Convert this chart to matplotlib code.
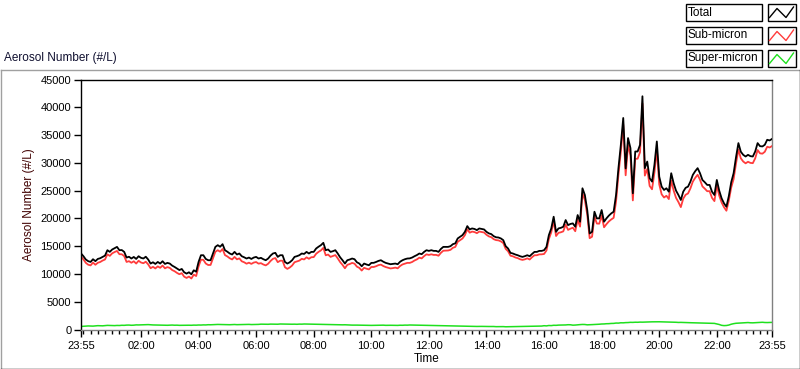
import numpy as np
import matplotlib
matplotlib.use("Agg")
import matplotlib.pyplot as plt
from matplotlib.lines import Line2D
from matplotlib.patches import Rectangle

plt.rcParams['font.family'] = ['Liberation Sans', 'DejaVu Sans']

# minutes after 23:55, every 5 min
minutes = np.arange(0, 1441, 5)

total = [
    13700, 13200, 12600, 12300, 12160, 12650, 12300, 12700, 12830, 13070, 13300, 14275,
    13970, 14400, 14640, 14870, 14275, 14300, 13970, 12950, 13100, 12775, 13060, 12700,
    13190, 12900, 12780, 13100, 12600, 11870, 12100, 11800, 12160, 11870, 12290, 11800,
    11990, 11870, 11500, 11260, 10970, 10700, 10900, 10300, 10060, 10300, 9940, 10660,
    10400, 12160, 13370, 13370, 12700, 12470, 12470, 13680, 14870, 15180, 14900, 15360,
    14275, 14000, 13680, 13500, 13970, 13500, 13680, 13190, 13000, 12775, 12950, 12700,
    12950, 13070, 12775, 12900, 12650, 12470, 12775, 13300, 13680, 13800, 13070, 13370,
    13370, 12160, 11870, 12100, 12470, 13070, 13200, 13370, 13680, 13600, 13970, 13680,
    13970, 13970, 14580, 14900, 15180, 15600, 14275, 14400, 13970, 14100, 14275, 13680,
    13000, 12470, 11870, 12470, 12600, 12775, 12650, 12100, 11870, 11380, 11870, 11700,
    11570, 11990, 12000, 12160, 12350, 12470, 12200, 11990, 11870, 11750, 11800, 11870,
    11750, 12200, 12470, 12650, 12775, 12800, 12950, 13190, 13400, 13680, 13560, 13970,
    14275, 14150, 14275, 14150, 14150, 13970, 14500, 14870, 14870, 14870, 15000, 15360,
    15500, 16390, 16700, 16990, 17580, 18610, 18010, 18190, 18100, 17890, 18190, 18100,
    18010, 17580, 17300, 17170, 16800, 16600, 16560, 16390, 16080, 15000, 14580, 13790,
    13680, 13500, 13370, 13190, 13070, 13200, 13370, 13190, 13600, 13970, 13970, 14150,
    14150, 14275, 14870, 16990, 18190, 20300, 17580, 18190, 18300, 18490, 19700, 18790,
    19000, 19100, 18490, 20600, 19400, 25420, 24210, 21500, 17290, 17580, 21200, 20000,
    20000, 21500, 19400, 20000, 20500, 20900, 21200, 24210, 29040, 33250, 38070, 29000,
    34460, 32650, 24520, 32040, 32040, 33250, 41980, 29040, 30230, 27230, 26620, 29630,
    33850, 27520, 25720, 25120, 25420, 24810, 28130, 26330, 25000, 24210, 23310, 24810,
    25500, 25720, 26620, 27830, 28500, 29040, 28130, 26920, 26500, 26020, 26020, 24800,
    24210, 26920, 25000, 23610, 22710, 22100, 24000, 26500, 28130, 31000, 33550, 32000,
    31440, 31140, 31440, 31200, 31140, 32040, 33550, 33000, 32950, 33250, 34150, 34030,
    34300,
]

super_micron = [
    550, 580, 600, 640, 620, 610, 650, 690, 680, 660, 700, 740, 720, 690, 700, 730,
    720, 760, 750, 790, 800, 760, 780, 830, 820,
    840, 850, 900, 880, 840, 820, 810, 800, 770, 780, 790, 760,
    780, 800, 770, 780, 750, 760, 790, 780, 770, 760, 790, 780,
    810, 800, 830, 820, 860, 850, 870, 880, 910, 900, 870, 880,
    850, 860, 890, 900, 870, 880, 910, 900, 930, 920, 890, 900,
    930, 920, 960, 950, 930, 940, 970, 960, 940, 950, 990, 980,
    950, 960, 940, 950, 960, 940, 970, 960, 990, 980, 950, 960,
    940, 950, 930, 940, 910, 920, 910, 900, 870, 880, 870, 860,
    840, 850, 830, 820, 790, 800, 790, 780, 770, 760, 760, 750,
    740, 750, 770, 760, 790, 780, 750, 760, 760, 750, 730, 740,
    770, 760, 790, 780, 810, 800, 770, 780, 750, 760, 760, 750,
    730, 740, 730, 720, 690, 700, 690, 680, 650, 660, 650, 640,
    610, 620, 610, 600, 570, 580, 570, 560, 550, 560, 560, 550,
    530, 540, 550, 540, 510, 520, 530, 520, 490, 500, 510, 500,
    530, 520, 550, 540, 570, 560, 590, 580, 610, 600, 630, 620,
    680, 650, 720, 700, 760, 750, 790, 800, 830, 820, 860, 850,
    780, 800, 850, 880, 910, 900, 840, 850, 880, 900, 930, 950,
    990, 1000, 1040, 1050, 1090, 1100, 1160, 1150, 1210, 1200, 1240, 1250,
    1290, 1280, 1310, 1300, 1330, 1320, 1340, 1350, 1390, 1380, 1390, 1400,
    1390, 1380, 1360, 1350, 1330, 1320, 1310, 1300, 1270, 1280, 1260, 1250,
    1230, 1220, 1210, 1200, 1190, 1180, 1160, 1150, 1130, 1120, 1110, 1100,
    1000, 900, 750, 700, 720, 800, 950, 1050, 1120, 1150, 1180, 1200,
    1230, 1250, 1210, 1200, 1230, 1250, 1290, 1300, 1260, 1250, 1270, 1280,
]

sub_micron = [t - s for t, s in zip(total, super_micron)]

tick_labels = ['23:55', '02:00', '04:00', '06:00', '08:00', '10:00', '12:00',
               '14:00', '16:00', '18:00', '20:00', '22:00', '23:55']
major_ticks = [0] + list(range(125, 1440, 120)) + [1440]
minor_ticks = list(range(5, 1441, 15))

series_names = ['Total', 'Sub-micron', 'Super-micron']
series_colors = ['#000000', '#ff3c3c', '#1ee01e']

W, H = 800, 369
fig = plt.figure(figsize=(W / 100, H / 100), dpi=100)


def fx(x):
    return x / W


def fy(y):
    return 1 - y / H


# sunken panel frame
fig.add_artist(Line2D([fx(0.5), fx(0.5)], [fy(70), fy(368)], color='#a0a0a0', lw=1))
fig.add_artist(Line2D([fx(0.5), fx(798.5)], [fy(70), fy(70)], color='#a0a0a0', lw=1))
fig.add_artist(Line2D([fx(0.5), fx(799.5)], [fy(368.5), fy(368.5)], color='#000000', lw=1))
fig.add_artist(Line2D([fx(799.5), fx(799.5)], [fy(70), fy(368.5)], color='#000000', lw=1))

ax = fig.add_axes([fx(81), fy(329.5), fx(772) - fx(81), fy(79.5) - fy(329.5)])
ax.plot(minutes, total, color=series_colors[0], lw=1.3, zorder=3)
ax.plot(minutes, sub_micron, color=series_colors[1], lw=1.3, zorder=2)
ax.plot(minutes, super_micron, color=series_colors[2], lw=1.1, zorder=2)

ax.set_xlim(0, 1440)
ax.set_ylim(0, 45000)
ax.set_yticks(range(0, 45001, 5000))
ax.set_xticks(major_ticks)
ax.set_xticklabels(tick_labels)
ax.set_xticks(minor_ticks, minor=True)
ax.tick_params(axis='both', which='major', direction='out', length=5, width=1,
               labelsize=8, colors='black', pad=2)
ax.tick_params(axis='x', which='minor', direction='out', length=3, width=1, color='black')
ax.tick_params(axis='x', which='major', pad=3)

ax.spines['left'].set_color('black')
ax.spines['top'].set_color('black')
ax.spines['right'].set_color('#808080')
ax.spines['bottom'].set_color('#808080')
for s in ax.spines.values():
    s.set_linewidth(1)

ax.set_xlabel('Time', fontsize=8.5, labelpad=2)
ax.set_ylabel('Aerosol Number (#/L)', fontsize=8.5, color='#400000', labelpad=4)

fig.text(fx(4), fy(58), 'Aerosol Number (#/L)', fontsize=8.5, va='center', ha='left',
         color='#101030')

# legend boxes
rows_y = [4, 27, 50]
for name, col, y0 in zip(series_names, series_colors, rows_y):
    fig.add_artist(Rectangle((fx(685.5), fy(y0 + 16.5)), fx(762) - fx(685.5), fy(y0) - fy(y0 + 16.5),
                             facecolor='white', edgecolor='black', lw=1))
    fig.text(fx(688), fy(y0 + 8.5), name, fontsize=8.5, va='center', ha='left', color='black')
    fig.add_artist(Rectangle((fx(767.5), fy(y0 + 16.5)), fx(795.5) - fx(767.5), fy(y0) - fy(y0 + 16.5),
                             facecolor='white', edgecolor='black', lw=1))
    zx = [769.5, 777, 786, 793.5]
    zy = [y0 + 13.5, y0 + 4.5, y0 + 13.5, y0 + 3]
    fig.add_artist(Line2D([fx(v) for v in zx], [fy(v) for v in zy], color=col, lw=1))

fig.savefig('out.png', dpi=100)
